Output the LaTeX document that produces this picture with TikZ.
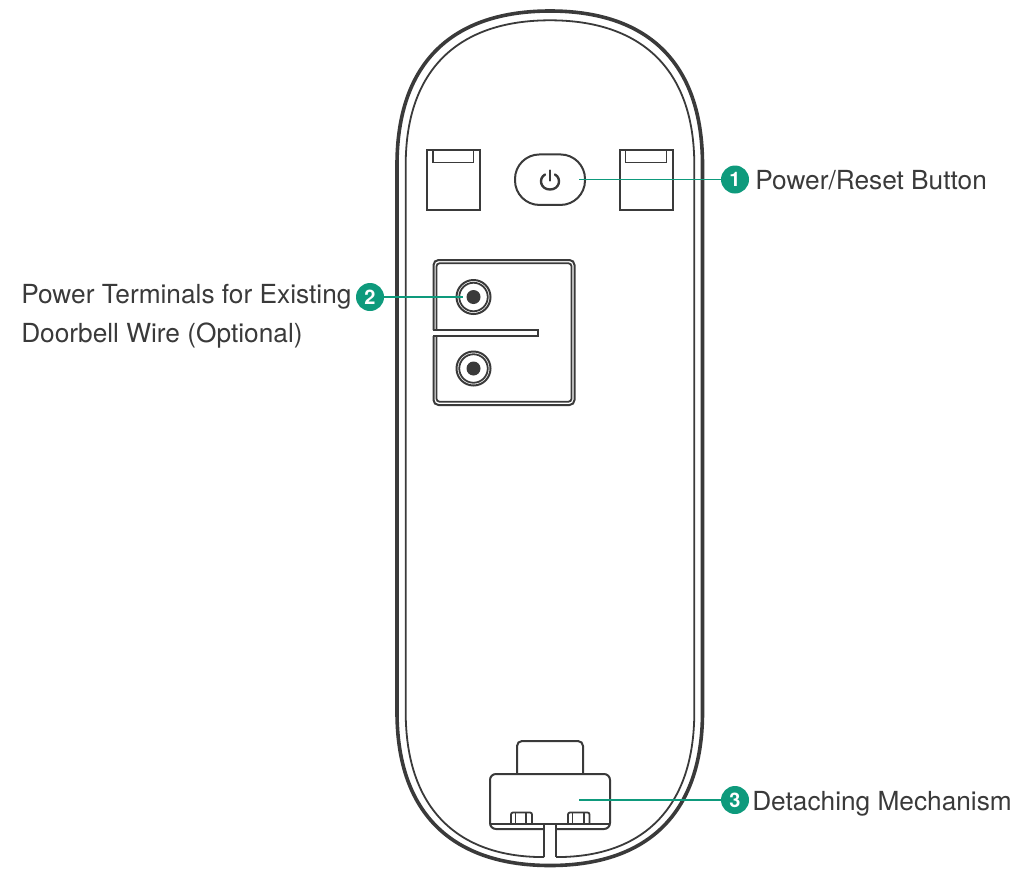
\documentclass[tikz,border=0pt]{standalone}
\usepackage{fontspec}
\setmainfont{TeX Gyre Heros}
\definecolor{ink}{HTML}{3A3A3A}
\definecolor{teal1}{HTML}{0E9A7C}
\tikzset{
 px/.style={x=0.75pt,y=-0.75pt},
 heavy/.style={draw=ink,line width=3.6pt*0.75},
 thin1/.style={draw=ink,line width=1.8pt*0.75},
 mid/.style={draw=ink,line width=2pt*0.75},
 iconline/.style={draw=ink,line width=2.4pt*0.75,line cap=round},
 leader/.style={draw=teal1,line width=1.6pt*0.75},
 badge/.style={circle,fill=teal1,text=white,minimum size=21pt,inner sep=0pt,font=\fontsize{15pt}{16pt}\selectfont\bfseries},
 lab/.style={text=ink,inner sep=0pt,anchor=base west,font=\fontsize{19.7pt}{21pt}\selectfont},
}
\begin{document}
\begin{tikzpicture}[px]
\useasboundingbox (0,0) rectangle (1017,875);
% housing
\draw[heavy] (397,165) .. controls (397,60) and (455,11) .. (550,11) .. controls (645,11) and (702.5,60) .. (702.5,165)
 -- (702.5,712) .. controls (702.5,816) and (645,865.5) .. (550,865.5) .. controls (455,865.5) and (397,816) .. (397,712) -- cycle;
\draw[thin1] (544,857) -- (538,857) .. controls (455,855) and (405.7,806) .. (405.7,712) -- (405.7,165)
 .. controls (405.7,68) and (460,20.3) .. (550,20.3) .. controls (640,20.3) and (694.3,68) .. (694.3,165)
 -- (694.3,712) .. controls (694.3,806) and (645,855) .. (562,857) -- (556,857);
% clips
\draw[mid] (427,150) rectangle (479.5,209.5);
\draw[thin1] (432.8,150) |- (473.4,162.5) -- (473.4,150);
\draw[mid] (620,150) rectangle (672.5,209.5);
\draw[thin1] (625.5,150) |- (666.5,162.5) -- (666.5,150);
% button
\node[mid,rounded corners=24.5*0.75pt,minimum width=70*0.75pt,minimum height=50.5*0.75pt,inner sep=0pt] (btn) at (550,179.7) {};
\draw[iconline] (545,174.5) .. controls (538,178.5) and (540.5,189.5) .. (550,189.5) .. controls (559.5,189.5) and (562,178.5) .. (555,174.5);
\draw[iconline] (550,170.5) -- (550,180.5);
% terminal plate
\draw[mid,rounded corners=5*0.75pt] (433.5,330) -- (433.5,260) -- (574.5,260) -- (574.5,405) -- (433.5,405) -- (433.5,336);
\draw[thin1,rounded corners=3*0.75pt] (436.5,330) -- (436.5,263.3) -- (571.5,263.3) -- (571.5,401.7) -- (436.5,401.7) -- (436.5,336);
\draw[mid] (432.5,330) -- (537.5,330) -- (537.5,336) -- (432.5,336);
\node[mid,circle,minimum size=34*0.75pt,inner sep=0pt] (t1) at (473.5,297) {};
\node[thin1,circle,minimum size=28.5*0.75pt,inner sep=0pt] (t1b) at (473.5,297) {};
\node[fill=ink,circle,minimum size=14*0.75pt,inner sep=0pt] (t1c) at (473.5,297) {};
\node[mid,circle,minimum size=34*0.75pt,inner sep=0pt] (t2) at (473.5,368.5) {};
\node[thin1,circle,minimum size=28.5*0.75pt,inner sep=0pt] (t2b) at (473.5,368.5) {};
\node[fill=ink,circle,minimum size=14*0.75pt,inner sep=0pt] (t2c) at (473.5,368.5) {};
% detaching mechanism
\draw[mid,rounded corners=5*0.75pt] (517,774) -- (517,741) -- (583,741) -- (583,774);
\draw[mid,rounded corners=6*0.75pt] (544,829) -- (490,829) -- (490,774) -- (610,774) -- (610,829) -- (556,829);
\draw[thin1] (490,824) -- (610,824);
\draw[thin1,rounded corners=2*0.75pt] (511,824) -- (511,812.5) -- (532,812.5) -- (532,824);
\draw[thin1] (515.5,812.5) -- (515.5,824) (526,812.5) -- (526,824);
\draw[thin1,rounded corners=2*0.75pt] (568,824) -- (568,812.5) -- (589.5,812.5) -- (589.5,824);
\draw[thin1] (572.5,812.5) -- (572.5,824) (584,812.5) -- (584,824);
\draw[thin1] (544,824) -- (544,857) (556,824) -- (556,857);
% callouts
\coordinate (a1) at (579,179.5);
\coordinate (a2) at (463,297);
\coordinate (a3) at (579,800);
\node[badge] (b1) at (735,179.5) {1};
\node[badge] (b2) at (370,297) {2};
\node[badge] (b3) at (735,800) {3};
\draw[leader] (a1) -- (b1);
\draw[leader] (b2) -- (a2);
\draw[leader] (a3) -- (b3);
\node[lab] (l1) at (755,189) {Power/Reset Button};
\node[lab] (l2) at (21,303) {Power Terminals for Existing};
\node[lab] (l2b) at (21,342) {Doorbell Wire (Optional)};
\node[lab] (l3) at (752,810) {Detaching Mechanism};
\end{tikzpicture}
\end{document}
